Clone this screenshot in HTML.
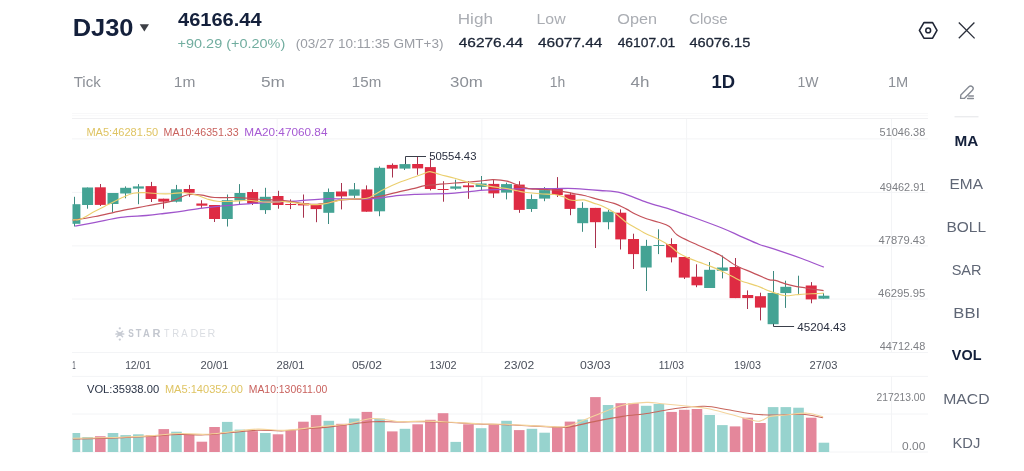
<!DOCTYPE html><html><head><meta charset="utf-8"><style>html,body{margin:0;padding:0;background:#fff;width:1024px;height:471px;overflow:hidden}svg{display:block;will-change:transform}text{font-family:"Liberation Sans",sans-serif}</style></head><body>
<svg width="1024" height="471" viewBox="0 0 1024 471">
<rect width="1024" height="471" fill="#fff"/>
<text x="72.65" y="36.30" font-size="23.50" fill="#14203B" font-weight="bold" textLength="60.79" lengthAdjust="spacingAndGlyphs">DJ30</text>
<polygon points="139.7,24.2 149,24.2 144.35,31.4" fill="#3c3f45"/>
<text x="178.00" y="26.00" font-size="17.70" fill="#14203B" font-weight="bold" textLength="83.52" lengthAdjust="spacingAndGlyphs">46166.44</text>
<text x="177.58" y="48.20" font-size="13.40" fill="#71ad9f" font-weight="normal" textLength="107.66" lengthAdjust="spacingAndGlyphs">+90.29 (+0.20%)</text>
<text x="295.79" y="48.20" font-size="13.40" fill="#9a9da4" font-weight="normal" textLength="147.79" lengthAdjust="spacingAndGlyphs">(03/27 10:11:35 GMT+3)</text>
<text x="457.73" y="23.80" font-size="14.00" fill="#aaadb3" font-weight="normal" textLength="35.21" lengthAdjust="spacingAndGlyphs">High</text>
<text x="536.53" y="23.80" font-size="14.00" fill="#aaadb3" font-weight="normal" textLength="29.06" lengthAdjust="spacingAndGlyphs">Low</text>
<text x="617.27" y="23.80" font-size="14.00" fill="#aaadb3" font-weight="normal" textLength="39.71" lengthAdjust="spacingAndGlyphs">Open</text>
<text x="689.04" y="23.80" font-size="14.00" fill="#aaadb3" font-weight="normal" textLength="38.66" lengthAdjust="spacingAndGlyphs">Close</text>
<text x="458.71" y="47.40" font-size="13.50" fill="#1c2536" font-weight="normal" textLength="64.47" lengthAdjust="spacingAndGlyphs" stroke="#1c2536" stroke-width="0.3">46276.44</text>
<text x="538.01" y="47.40" font-size="13.50" fill="#1c2536" font-weight="normal" textLength="64.47" lengthAdjust="spacingAndGlyphs" stroke="#1c2536" stroke-width="0.3">46077.44</text>
<text x="617.65" y="47.40" font-size="13.50" fill="#1c2536" font-weight="normal" textLength="57.65" lengthAdjust="spacingAndGlyphs" stroke="#1c2536" stroke-width="0.3">46107.01</text>
<text x="689.44" y="47.40" font-size="13.50" fill="#1c2536" font-weight="normal" textLength="60.86" lengthAdjust="spacingAndGlyphs" stroke="#1c2536" stroke-width="0.3">46076.15</text>
<polygon points="919.4,30.4 923.9,22.6 932.6,22.6 937.0,30.4 932.6,38.2 923.9,38.2" fill="none" stroke="#1f2535" stroke-width="1.6" stroke-linejoin="round"/>
<circle cx="928.2" cy="30.4" r="2.4" fill="none" stroke="#1f2535" stroke-width="1.5"/>
<path d="M958.8,22.5 L974.6,38.4 M974.4,22.5 L958.8,38.3" stroke="#2a2f3a" stroke-width="1.3" fill="none"/>
<text x="73.70" y="87.00" font-size="14.60" fill="#8c9097" font-weight="normal" textLength="27.12" lengthAdjust="spacingAndGlyphs">Tick</text>
<text x="173.84" y="87.00" font-size="14.60" fill="#8c9097" font-weight="normal" textLength="21.54" lengthAdjust="spacingAndGlyphs">1m</text>
<text x="260.91" y="87.00" font-size="14.60" fill="#8c9097" font-weight="normal" textLength="23.99" lengthAdjust="spacingAndGlyphs">5m</text>
<text x="351.87" y="87.00" font-size="14.60" fill="#8c9097" font-weight="normal" textLength="29.40" lengthAdjust="spacingAndGlyphs">15m</text>
<text x="450.13" y="87.00" font-size="14.60" fill="#8c9097" font-weight="normal" textLength="32.76" lengthAdjust="spacingAndGlyphs">30m</text>
<text x="549.76" y="87.00" font-size="14.60" fill="#8c9097" font-weight="normal" textLength="15.48" lengthAdjust="spacingAndGlyphs">1h</text>
<text x="630.58" y="87.00" font-size="14.60" fill="#8c9097" font-weight="normal" textLength="18.87" lengthAdjust="spacingAndGlyphs">4h</text>
<text x="711.60" y="87.90" font-size="17.70" fill="#14203B" font-weight="bold" textLength="23.60" lengthAdjust="spacingAndGlyphs">1D</text>
<text x="797.45" y="87.00" font-size="14.60" fill="#8c9097" font-weight="normal" textLength="21.02" lengthAdjust="spacingAndGlyphs">1W</text>
<text x="887.90" y="87.00" font-size="14.60" fill="#8c9097" font-weight="normal" textLength="20.33" lengthAdjust="spacingAndGlyphs">1M</text>
<g fill="none" stroke="#868b94" stroke-width="1.35" stroke-linejoin="round" stroke-linecap="round"><path d="M960.6,98.4 L960.8,94.9 L968.9,86.8 A2.45,2.45 0 0 1 972.4,90.3 L964.3,98.4 Z"/><path d="M968.6,96 L973.4,96 M967.6,98.5 L973.4,98.5"/></g>
<line x1="954.5" y1="116.8" x2="978.5" y2="116.8" stroke="#e3e4e7" stroke-width="1"/>
<text x="954.41" y="145.90" font-size="14.60" fill="#14203B" font-weight="bold" textLength="23.78" lengthAdjust="spacingAndGlyphs">MA</text>
<text x="949.57" y="189.20" font-size="14.60" fill="#5f6675" font-weight="normal" textLength="33.36" lengthAdjust="spacingAndGlyphs">EMA</text>
<text x="946.46" y="231.80" font-size="14.60" fill="#5f6675" font-weight="normal" textLength="39.53" lengthAdjust="spacingAndGlyphs">BOLL</text>
<text x="951.65" y="275.10" font-size="14.60" fill="#5f6675" font-weight="normal" textLength="29.93" lengthAdjust="spacingAndGlyphs">SAR</text>
<text x="953.37" y="318.10" font-size="14.60" fill="#5f6675" font-weight="normal" textLength="26.75" lengthAdjust="spacingAndGlyphs">BBI</text>
<text x="951.86" y="360.40" font-size="14.60" fill="#14203B" font-weight="bold" textLength="29.59" lengthAdjust="spacingAndGlyphs">VOL</text>
<text x="943.24" y="403.90" font-size="14.60" fill="#5f6675" font-weight="normal" textLength="46.34" lengthAdjust="spacingAndGlyphs">MACD</text>
<text x="952.52" y="447.50" font-size="14.60" fill="#5f6675" font-weight="normal" textLength="27.77" lengthAdjust="spacingAndGlyphs">KDJ</text>
<g stroke="#f3f4f6" stroke-width="1" fill="none">
<line x1="72" y1="138.90" x2="928" y2="138.90"/>
<line x1="72" y1="192.40" x2="928" y2="192.40"/>
<line x1="72" y1="245.90" x2="928" y2="245.90"/>
<line x1="72" y1="299.00" x2="928" y2="299.00"/>
<line x1="72" y1="352.50" x2="928" y2="352.50"/>
<line x1="72" y1="376.40" x2="928" y2="376.40"/>
<line x1="72" y1="414.00" x2="928" y2="414.00"/>
<line x1="72" y1="452.00" x2="928" y2="452.00"/>
<line x1="72" y1="113.5" x2="928" y2="113.5" stroke="#f8f8f9"/>
<line x1="72" y1="115.7" x2="928" y2="115.7" stroke="#f9f9fa"/>
<line x1="72" y1="118.5" x2="928" y2="118.5" stroke="#f0f0f2"/>
<line x1="277.2" y1="119" x2="277.2" y2="352.5"/>
<line x1="277.2" y1="376.4" x2="277.2" y2="452"/>
<line x1="481.9" y1="119" x2="481.9" y2="352.5"/>
<line x1="481.9" y1="376.4" x2="481.9" y2="452"/>
<line x1="686.6" y1="119" x2="686.6" y2="352.5"/>
<line x1="686.6" y1="376.4" x2="686.6" y2="452"/>
<line x1="891.5" y1="119" x2="891.5" y2="352.5"/>
<line x1="891.5" y1="376.4" x2="891.5" y2="452"/>
</g>
<text x="879.56" y="135.70" font-size="10.90" fill="#7d7f84" font-weight="normal" textLength="45.69" lengthAdjust="spacingAndGlyphs">51046.38</text>
<text x="879.73" y="190.60" font-size="10.90" fill="#7d7f84" font-weight="normal" textLength="45.63" lengthAdjust="spacingAndGlyphs">49462.91</text>
<text x="878.62" y="243.80" font-size="10.90" fill="#7d7f84" font-weight="normal" textLength="46.70" lengthAdjust="spacingAndGlyphs">47879.43</text>
<text x="878.12" y="296.90" font-size="10.90" fill="#7d7f84" font-weight="normal" textLength="47.15" lengthAdjust="spacingAndGlyphs">46295.95</text>
<text x="879.73" y="350.10" font-size="10.90" fill="#7d7f84" font-weight="normal" textLength="45.52" lengthAdjust="spacingAndGlyphs">44712.48</text>
<text x="876.58" y="400.90" font-size="10.90" fill="#7d7f84" font-weight="normal" textLength="48.75" lengthAdjust="spacingAndGlyphs">217213.00</text>
<text x="902.12" y="450.00" font-size="10.90" fill="#7d7f84" font-weight="normal" textLength="23.27" lengthAdjust="spacingAndGlyphs">0.00</text>
<text x="86.42" y="135.70" font-size="11.20" fill="#dfc463" font-weight="normal" textLength="71.83" lengthAdjust="spacingAndGlyphs">MA5:46281.50</text>
<text x="163.55" y="135.70" font-size="11.20" fill="#c9625e" font-weight="normal" textLength="75.14" lengthAdjust="spacingAndGlyphs">MA10:46351.33</text>
<text x="244.36" y="135.70" font-size="11.20" fill="#a65ad3" font-weight="normal" textLength="83.11" lengthAdjust="spacingAndGlyphs">MA20:47060.84</text>
<g fill="#c8ccd4" stroke="none"><circle cx="119.8" cy="334" r="2.1"/><rect x="115.2" y="333.15" width="9.3" height="1.7" rx="0.85"/><circle cx="119.8" cy="328.3" r="1.15"/><circle cx="119.8" cy="339.6" r="1.15"/></g>
<g stroke="#c8ccd4" stroke-width="1.5" stroke-linecap="round"><line x1="117" y1="331.2" x2="122.6" y2="336.8"/><line x1="122.6" y1="331.2" x2="117" y2="336.8"/></g>
<text x="128.35" y="337.10" font-size="10.00" fill="#c3c7cf" font-weight="bold" textLength="5.56" lengthAdjust="spacingAndGlyphs">S</text>
<text x="135.81" y="337.10" font-size="10.00" fill="#c3c7cf" font-weight="bold" textLength="5.59" lengthAdjust="spacingAndGlyphs">T</text>
<text x="142.96" y="337.10" font-size="10.00" fill="#c3c7cf" font-weight="bold" textLength="6.79" lengthAdjust="spacingAndGlyphs">A</text>
<text x="152.58" y="337.10" font-size="10.00" fill="#c3c7cf" font-weight="bold" textLength="7.96" lengthAdjust="spacingAndGlyphs">R</text>
<text x="163.92" y="337.10" font-size="10.00" fill="#dadde2" font-weight="normal" textLength="5.47" lengthAdjust="spacingAndGlyphs">T</text>
<text x="172.23" y="337.10" font-size="10.00" fill="#dadde2" font-weight="normal" textLength="6.92" lengthAdjust="spacingAndGlyphs">R</text>
<text x="181.25" y="337.10" font-size="10.00" fill="#dadde2" font-weight="normal" textLength="6.37" lengthAdjust="spacingAndGlyphs">A</text>
<text x="190.54" y="337.10" font-size="10.00" fill="#dadde2" font-weight="normal" textLength="7.77" lengthAdjust="spacingAndGlyphs">D</text>
<text x="199.55" y="337.10" font-size="10.00" fill="#dadde2" font-weight="normal" textLength="6.24" lengthAdjust="spacingAndGlyphs">E</text>
<text x="207.64" y="337.10" font-size="10.00" fill="#dadde2" font-weight="normal" textLength="7.77" lengthAdjust="spacingAndGlyphs">R</text>
<defs><clipPath id="cl"><rect x="72.5" y="110" width="830" height="350"/></clipPath></defs>
<text x="72.23" y="369.10" font-size="11.00" fill="#4a4f5b" font-weight="normal" textLength="3.49" lengthAdjust="spacingAndGlyphs">1</text>
<text x="125.13" y="369.10" font-size="11.00" fill="#4a4f5b" font-weight="normal" textLength="25.82" lengthAdjust="spacingAndGlyphs">12/01</text>
<text x="200.54" y="369.10" font-size="11.00" fill="#4a4f5b" font-weight="normal" textLength="28.05" lengthAdjust="spacingAndGlyphs">20/01</text>
<text x="276.44" y="369.10" font-size="11.00" fill="#4a4f5b" font-weight="normal" textLength="28.05" lengthAdjust="spacingAndGlyphs">28/01</text>
<text x="351.92" y="369.10" font-size="11.00" fill="#4a4f5b" font-weight="normal" textLength="30.11" lengthAdjust="spacingAndGlyphs">05/02</text>
<text x="429.38" y="369.10" font-size="11.00" fill="#4a4f5b" font-weight="normal" textLength="27.29" lengthAdjust="spacingAndGlyphs">13/02</text>
<text x="504.00" y="369.10" font-size="11.00" fill="#4a4f5b" font-weight="normal" textLength="30.24" lengthAdjust="spacingAndGlyphs">23/02</text>
<text x="580.01" y="369.10" font-size="11.00" fill="#4a4f5b" font-weight="normal" textLength="30.67" lengthAdjust="spacingAndGlyphs">03/03</text>
<text x="658.83" y="369.10" font-size="11.00" fill="#4a4f5b" font-weight="normal" textLength="25.07" lengthAdjust="spacingAndGlyphs">11/03</text>
<text x="733.99" y="369.10" font-size="11.00" fill="#4a4f5b" font-weight="normal" textLength="26.92" lengthAdjust="spacingAndGlyphs">19/03</text>
<text x="809.44" y="369.10" font-size="11.00" fill="#4a4f5b" font-weight="normal" textLength="27.89" lengthAdjust="spacingAndGlyphs">27/03</text>
<g clip-path="url(#cl)">
<rect x="74.00" y="196.80" width="1" height="29.70" fill="#3d8a80"/>
<rect x="69.40" y="204.20" width="11.00" height="19.60" fill="#44A394"/>
<rect x="87.00" y="187.50" width="1" height="21.20" fill="#3d8a80"/>
<rect x="82.09" y="187.50" width="11.00" height="17.50" fill="#44A394"/>
<rect x="100.00" y="184.00" width="1" height="22.00" fill="#a8324e"/>
<rect x="94.79" y="187.30" width="11.00" height="17.60" fill="#DE2B43"/>
<rect x="112.00" y="193.00" width="1" height="19.40" fill="#3d8a80"/>
<rect x="107.49" y="193.00" width="11.00" height="11.00" fill="#44A394"/>
<rect x="125.00" y="186.40" width="1" height="11.90" fill="#3d8a80"/>
<rect x="120.18" y="187.80" width="11.00" height="5.70" fill="#44A394"/>
<rect x="138.00" y="184.10" width="1" height="20.10" fill="#3d8a80"/>
<rect x="132.88" y="186.40" width="11.00" height="2.20" fill="#44A394"/>
<rect x="151.00" y="181.90" width="1" height="20.10" fill="#a8324e"/>
<rect x="145.57" y="186.10" width="11.00" height="12.90" fill="#DE2B43"/>
<rect x="163.00" y="198.70" width="1" height="10.00" fill="#a8324e"/>
<rect x="158.27" y="198.70" width="11.00" height="3.00" fill="#DE2B43"/>
<rect x="176.00" y="184.90" width="1" height="17.50" fill="#3d8a80"/>
<rect x="170.96" y="189.30" width="11.00" height="12.40" fill="#44A394"/>
<rect x="189.00" y="184.90" width="1" height="11.90" fill="#a8324e"/>
<rect x="183.66" y="189.00" width="11.00" height="3.80" fill="#DE2B43"/>
<rect x="201.00" y="200.20" width="1" height="7.70" fill="#a8324e"/>
<rect x="196.35" y="203.50" width="11.00" height="2.20" fill="#DE2B43"/>
<rect x="214.00" y="205.00" width="1" height="17.00" fill="#a8324e"/>
<rect x="209.05" y="205.00" width="11.00" height="14.00" fill="#DE2B43"/>
<rect x="227.00" y="194.50" width="1" height="32.00" fill="#3d8a80"/>
<rect x="221.74" y="200.20" width="11.00" height="18.80" fill="#44A394"/>
<rect x="239.00" y="184.10" width="1" height="20.90" fill="#3d8a80"/>
<rect x="234.44" y="193.00" width="11.00" height="7.50" fill="#44A394"/>
<rect x="252.00" y="189.30" width="1" height="15.70" fill="#a8324e"/>
<rect x="247.13" y="192.00" width="11.00" height="11.50" fill="#DE2B43"/>
<rect x="265.00" y="187.80" width="1" height="26.10" fill="#3d8a80"/>
<rect x="259.83" y="196.80" width="11.00" height="13.30" fill="#44A394"/>
<rect x="278.00" y="190.80" width="1" height="17.90" fill="#a8324e"/>
<rect x="272.52" y="196.00" width="11.00" height="9.00" fill="#DE2B43"/>
<rect x="290.00" y="199.40" width="1" height="9.70" fill="#a8324e"/>
<rect x="285.22" y="204.00" width="11.00" height="1.00" fill="#DE2B43"/>
<rect x="303.00" y="194.50" width="1" height="23.20" fill="#a8324e"/>
<rect x="297.91" y="203.40" width="11.00" height="2.00" fill="#DE2B43"/>
<rect x="316.00" y="204.30" width="1" height="17.90" fill="#a8324e"/>
<rect x="310.61" y="204.30" width="11.00" height="4.80" fill="#DE2B43"/>
<rect x="328.00" y="188.50" width="1" height="35.50" fill="#3d8a80"/>
<rect x="323.30" y="192.00" width="11.00" height="20.80" fill="#44A394"/>
<rect x="341.00" y="183.00" width="1" height="26.40" fill="#a8324e"/>
<rect x="336.00" y="191.50" width="11.00" height="4.90" fill="#DE2B43"/>
<rect x="354.00" y="183.00" width="1" height="15.00" fill="#3d8a80"/>
<rect x="348.69" y="189.40" width="11.00" height="6.30" fill="#44A394"/>
<rect x="366.00" y="185.40" width="1" height="26.30" fill="#a8324e"/>
<rect x="361.38" y="189.40" width="11.00" height="22.30" fill="#DE2B43"/>
<rect x="379.00" y="166.40" width="1" height="49.80" fill="#3d8a80"/>
<rect x="374.08" y="167.80" width="11.00" height="43.50" fill="#44A394"/>
<rect x="392.00" y="163.40" width="1" height="14.10" fill="#a8324e"/>
<rect x="386.77" y="164.90" width="11.00" height="3.70" fill="#DE2B43"/>
<rect x="404.00" y="164.10" width="1" height="5.90" fill="#3d8a80"/>
<rect x="399.47" y="164.10" width="11.00" height="4.50" fill="#44A394"/>
<rect x="417.00" y="156.50" width="1" height="18.30" fill="#a8324e"/>
<rect x="412.16" y="164.00" width="11.00" height="4.40" fill="#DE2B43"/>
<rect x="430.00" y="158.90" width="1" height="31.50" fill="#a8324e"/>
<rect x="424.86" y="167.10" width="11.00" height="21.90" fill="#DE2B43"/>
<rect x="443.00" y="181.20" width="1" height="20.50" fill="#a8324e"/>
<rect x="437.56" y="189.00" width="11.00" height="1.00" fill="#DE2B43"/>
<rect x="455.00" y="179.70" width="1" height="10.20" fill="#3d8a80"/>
<rect x="450.25" y="186.40" width="11.00" height="2.30" fill="#44A394"/>
<rect x="468.00" y="181.20" width="1" height="17.60" fill="#a8324e"/>
<rect x="462.95" y="185.40" width="11.00" height="1.80" fill="#DE2B43"/>
<rect x="481.00" y="176.00" width="1" height="14.10" fill="#3d8a80"/>
<rect x="475.64" y="183.50" width="11.00" height="3.40" fill="#44A394"/>
<rect x="493.00" y="179.00" width="1" height="18.90" fill="#a8324e"/>
<rect x="488.34" y="183.90" width="11.00" height="9.50" fill="#DE2B43"/>
<rect x="506.00" y="182.60" width="1" height="16.80" fill="#3d8a80"/>
<rect x="501.03" y="184.10" width="11.00" height="8.50" fill="#44A394"/>
<rect x="519.00" y="181.20" width="1" height="31.60" fill="#a8324e"/>
<rect x="513.73" y="184.60" width="11.00" height="25.30" fill="#DE2B43"/>
<rect x="531.00" y="194.50" width="1" height="17.40" fill="#3d8a80"/>
<rect x="526.42" y="199.00" width="11.00" height="10.00" fill="#44A394"/>
<rect x="544.00" y="187.10" width="1" height="14.10" fill="#3d8a80"/>
<rect x="539.12" y="190.10" width="11.00" height="8.50" fill="#44A394"/>
<rect x="557.00" y="177.10" width="1" height="19.90" fill="#a8324e"/>
<rect x="551.81" y="188.10" width="11.00" height="6.90" fill="#DE2B43"/>
<rect x="570.00" y="192.60" width="1" height="22.60" fill="#a8324e"/>
<rect x="564.50" y="194.50" width="11.00" height="14.40" fill="#DE2B43"/>
<rect x="582.00" y="202.20" width="1" height="29.60" fill="#3d8a80"/>
<rect x="577.20" y="207.90" width="11.00" height="15.30" fill="#44A394"/>
<rect x="595.00" y="207.90" width="1" height="40.10" fill="#a8324e"/>
<rect x="589.89" y="207.90" width="11.00" height="14.30" fill="#DE2B43"/>
<rect x="608.00" y="209.80" width="1" height="19.50" fill="#3d8a80"/>
<rect x="602.59" y="211.70" width="11.00" height="10.50" fill="#44A394"/>
<rect x="620.00" y="209.40" width="1" height="40.10" fill="#a8324e"/>
<rect x="615.28" y="212.70" width="11.00" height="26.70" fill="#DE2B43"/>
<rect x="633.00" y="233.70" width="1" height="35.30" fill="#a8324e"/>
<rect x="627.98" y="239.00" width="11.00" height="15.10" fill="#DE2B43"/>
<rect x="646.00" y="239.80" width="1" height="51.20" fill="#3d8a80"/>
<rect x="640.67" y="245.90" width="11.00" height="21.60" fill="#44A394"/>
<rect x="658.00" y="229.30" width="1" height="24.80" fill="#3d8a80"/>
<rect x="653.37" y="245.00" width="11.00" height="1.00" fill="#44A394"/>
<rect x="671.00" y="238.30" width="1" height="24.10" fill="#a8324e"/>
<rect x="666.06" y="244.00" width="11.00" height="13.40" fill="#DE2B43"/>
<rect x="684.00" y="257.00" width="1" height="22.00" fill="#a8324e"/>
<rect x="678.76" y="257.00" width="11.00" height="20.60" fill="#DE2B43"/>
<rect x="696.00" y="264.30" width="1" height="22.90" fill="#a8324e"/>
<rect x="691.46" y="276.70" width="11.00" height="8.60" fill="#DE2B43"/>
<rect x="709.00" y="262.00" width="1" height="26.00" fill="#3d8a80"/>
<rect x="704.15" y="269.80" width="11.00" height="18.20" fill="#44A394"/>
<rect x="722.00" y="255.50" width="1" height="22.90" fill="#3d8a80"/>
<rect x="716.85" y="267.50" width="11.00" height="3.30" fill="#44A394"/>
<rect x="735.00" y="258.00" width="1" height="40.10" fill="#a8324e"/>
<rect x="729.54" y="267.00" width="11.00" height="31.10" fill="#DE2B43"/>
<rect x="747.00" y="290.40" width="1" height="18.60" fill="#a8324e"/>
<rect x="742.24" y="295.00" width="11.00" height="3.10" fill="#DE2B43"/>
<rect x="760.00" y="292.70" width="1" height="27.70" fill="#a8324e"/>
<rect x="754.93" y="296.20" width="11.00" height="11.40" fill="#DE2B43"/>
<rect x="773.00" y="271.00" width="1" height="55.00" fill="#3d8a80"/>
<rect x="767.62" y="293.00" width="11.00" height="31.20" fill="#44A394"/>
<rect x="785.00" y="280.70" width="1" height="27.20" fill="#3d8a80"/>
<rect x="780.32" y="286.80" width="11.00" height="6.30" fill="#44A394"/>
<rect x="798.00" y="275.70" width="1" height="18.20" fill="#3d8a80"/>
<rect x="811.00" y="282.10" width="1" height="21.20" fill="#a8324e"/>
<rect x="805.71" y="285.50" width="11.00" height="13.90" fill="#DE2B43"/>
<rect x="823.00" y="293.10" width="1" height="5.60" fill="#3d8a80"/>
<rect x="818.40" y="295.70" width="11.00" height="3.00" fill="#44A394"/>
<rect x="69.60" y="433.00" width="10.60" height="19.00" fill="#97D3CE"/>
<rect x="82.30" y="437.00" width="10.60" height="15.00" fill="#97D3CE"/>
<rect x="94.99" y="436.20" width="10.60" height="15.80" fill="#E4879B"/>
<rect x="107.69" y="433.00" width="10.60" height="19.00" fill="#97D3CE"/>
<rect x="120.38" y="435.10" width="10.60" height="16.90" fill="#97D3CE"/>
<rect x="133.07" y="434.30" width="10.60" height="17.70" fill="#97D3CE"/>
<rect x="145.77" y="435.10" width="10.60" height="16.90" fill="#E4879B"/>
<rect x="158.47" y="429.10" width="10.60" height="22.90" fill="#E4879B"/>
<rect x="171.16" y="431.70" width="10.60" height="20.30" fill="#97D3CE"/>
<rect x="183.85" y="434.30" width="10.60" height="17.70" fill="#E4879B"/>
<rect x="196.55" y="441.70" width="10.60" height="10.30" fill="#E4879B"/>
<rect x="209.25" y="427.00" width="10.60" height="25.00" fill="#E4879B"/>
<rect x="221.94" y="421.90" width="10.60" height="30.10" fill="#97D3CE"/>
<rect x="234.63" y="429.60" width="10.60" height="22.40" fill="#97D3CE"/>
<rect x="247.33" y="431.20" width="10.60" height="20.80" fill="#E4879B"/>
<rect x="260.03" y="433.00" width="10.60" height="19.00" fill="#97D3CE"/>
<rect x="272.72" y="434.30" width="10.60" height="17.70" fill="#E4879B"/>
<rect x="285.42" y="430.40" width="10.60" height="21.60" fill="#E4879B"/>
<rect x="298.11" y="421.70" width="10.60" height="30.30" fill="#E4879B"/>
<rect x="310.81" y="415.10" width="10.60" height="36.90" fill="#E4879B"/>
<rect x="323.50" y="420.80" width="10.60" height="31.20" fill="#97D3CE"/>
<rect x="336.19" y="423.80" width="10.60" height="28.20" fill="#E4879B"/>
<rect x="348.89" y="418.50" width="10.60" height="33.50" fill="#97D3CE"/>
<rect x="361.58" y="411.90" width="10.60" height="40.10" fill="#E4879B"/>
<rect x="374.28" y="418.50" width="10.60" height="33.50" fill="#97D3CE"/>
<rect x="386.97" y="431.40" width="10.60" height="20.60" fill="#E4879B"/>
<rect x="399.67" y="428.80" width="10.60" height="23.20" fill="#97D3CE"/>
<rect x="412.36" y="424.30" width="10.60" height="27.70" fill="#E4879B"/>
<rect x="425.06" y="419.80" width="10.60" height="32.20" fill="#E4879B"/>
<rect x="437.76" y="413.20" width="10.60" height="38.80" fill="#E4879B"/>
<rect x="450.45" y="441.90" width="10.60" height="10.10" fill="#97D3CE"/>
<rect x="463.15" y="424.30" width="10.60" height="27.70" fill="#E4879B"/>
<rect x="475.84" y="428.20" width="10.60" height="23.80" fill="#97D3CE"/>
<rect x="488.54" y="424.30" width="10.60" height="27.70" fill="#E4879B"/>
<rect x="501.23" y="420.80" width="10.60" height="31.20" fill="#97D3CE"/>
<rect x="513.93" y="430.10" width="10.60" height="21.90" fill="#E4879B"/>
<rect x="526.62" y="428.80" width="10.60" height="23.20" fill="#97D3CE"/>
<rect x="539.32" y="432.70" width="10.60" height="19.30" fill="#97D3CE"/>
<rect x="552.01" y="426.90" width="10.60" height="25.10" fill="#E4879B"/>
<rect x="564.71" y="421.60" width="10.60" height="30.40" fill="#E4879B"/>
<rect x="577.40" y="419.50" width="10.60" height="32.50" fill="#97D3CE"/>
<rect x="590.10" y="397.10" width="10.60" height="54.90" fill="#E4879B"/>
<rect x="602.79" y="405.00" width="10.60" height="47.00" fill="#97D3CE"/>
<rect x="615.49" y="403.20" width="10.60" height="48.80" fill="#E4879B"/>
<rect x="628.18" y="403.20" width="10.60" height="48.80" fill="#E4879B"/>
<rect x="640.88" y="405.80" width="10.60" height="46.20" fill="#97D3CE"/>
<rect x="653.57" y="404.00" width="10.60" height="48.00" fill="#97D3CE"/>
<rect x="666.26" y="411.90" width="10.60" height="40.10" fill="#E4879B"/>
<rect x="678.96" y="409.80" width="10.60" height="42.20" fill="#E4879B"/>
<rect x="691.66" y="409.00" width="10.60" height="43.00" fill="#E4879B"/>
<rect x="704.35" y="415.00" width="10.60" height="37.00" fill="#97D3CE"/>
<rect x="717.05" y="425.10" width="10.60" height="26.90" fill="#97D3CE"/>
<rect x="729.74" y="426.40" width="10.60" height="25.60" fill="#E4879B"/>
<rect x="742.44" y="417.70" width="10.60" height="34.30" fill="#E4879B"/>
<rect x="755.13" y="423.00" width="10.60" height="29.00" fill="#E4879B"/>
<rect x="767.83" y="407.10" width="10.60" height="44.90" fill="#97D3CE"/>
<rect x="780.52" y="407.10" width="10.60" height="44.90" fill="#97D3CE"/>
<rect x="793.22" y="407.70" width="10.60" height="44.30" fill="#97D3CE"/>
<rect x="805.91" y="417.70" width="10.60" height="34.30" fill="#E4879B"/>
<rect x="818.61" y="442.70" width="10.60" height="9.30" fill="#97D3CE"/>
</g>
<g fill="none" stroke-width="1.2" stroke-linejoin="round" clip-path="url(#cl)">
<path d="M75.10,226.20 C78.48,225.57 87.78,223.88 95.40,222.40 C103.02,220.92 112.33,218.45 120.80,217.30 C129.27,216.15 139.00,216.13 146.20,215.50 C153.40,214.87 157.65,214.27 164.00,213.50 C170.35,212.73 177.53,211.83 184.30,210.90 C191.07,209.97 198.25,208.73 204.60,207.90 C210.95,207.07 215.20,206.58 222.40,205.90 C229.60,205.22 239.35,204.45 247.80,203.80 C256.25,203.15 264.65,202.50 273.10,202.00 C281.55,201.50 290.02,201.33 298.50,200.80 C306.98,200.27 316.33,199.10 324.00,198.80 C331.67,198.50 337.35,198.97 344.50,199.00 C351.65,199.03 360.20,199.28 366.90,199.00 C373.60,198.72 379.25,197.90 384.70,197.30 C390.15,196.70 394.63,195.90 399.60,195.40 C404.57,194.90 408.60,194.55 414.50,194.30 C420.40,194.05 428.30,194.10 435.00,193.90 C441.70,193.70 448.93,193.48 454.70,193.10 C460.47,192.72 464.63,192.10 469.60,191.60 C474.57,191.10 478.60,190.47 484.50,190.10 C490.40,189.73 498.30,189.65 505.00,189.40 C511.70,189.15 516.45,188.73 524.70,188.60 C532.95,188.47 546.12,188.60 554.50,188.60 C562.88,188.60 567.42,188.28 575.00,188.60 C582.58,188.92 592.32,189.78 600.00,190.50 C607.68,191.22 613.28,190.93 621.10,192.90 C628.92,194.87 638.70,199.57 646.90,202.30 C655.10,205.03 662.48,206.77 670.30,209.30 C678.12,211.83 685.20,214.38 693.80,217.50 C702.40,220.62 714.10,224.87 721.90,228.00 C729.70,231.13 734.35,233.55 740.60,236.30 C746.85,239.05 753.15,242.17 759.40,244.50 C765.65,246.83 771.07,247.97 778.10,250.30 C785.13,252.63 793.98,255.68 801.60,258.50 C809.22,261.32 820.10,265.75 823.80,267.20" stroke="#a055cc" stroke-width="1.3"/>
<path d="M72.50,220.20 C72.93,220.13 71.28,220.42 75.10,219.80 C78.92,219.18 87.78,218.00 95.40,216.50 C103.02,215.00 112.33,212.55 120.80,210.80 C129.27,209.05 137.73,207.60 146.20,206.00 C154.67,204.40 165.25,202.92 171.60,201.20 C177.95,199.48 180.92,196.83 184.30,195.70 C187.68,194.57 188.95,194.48 191.90,194.40 C194.85,194.32 198.20,194.68 202.00,195.20 C205.80,195.72 209.20,197.12 214.70,197.50 C220.20,197.88 229.48,197.38 235.00,197.50 C240.52,197.62 243.13,197.87 247.80,198.20 C252.47,198.53 256.67,199.07 263.00,199.50 C269.33,199.93 279.65,200.20 285.80,200.80 C291.95,201.40 295.08,202.52 299.90,203.10 C304.72,203.68 309.75,204.42 314.70,204.30 C319.65,204.18 325.13,203.13 329.60,202.40 C334.07,201.67 335.28,200.58 341.50,199.90 C347.72,199.22 359.70,199.05 366.90,198.30 C374.10,197.55 379.25,196.52 384.70,195.40 C390.15,194.28 394.63,192.77 399.60,191.60 C404.57,190.43 410.28,189.38 414.50,188.40 C418.72,187.42 420.67,186.40 424.90,185.70 C429.13,185.00 434.93,184.65 439.90,184.20 C444.87,183.75 449.75,183.37 454.70,183.00 C459.65,182.63 464.63,182.42 469.60,182.00 C474.57,181.58 480.53,180.88 484.50,180.50 C488.47,180.12 489.67,179.58 493.40,179.70 C497.13,179.82 502.92,180.33 506.90,181.20 C510.88,182.07 514.33,183.85 517.30,184.90 C520.27,185.95 522.47,186.82 524.70,187.50 C526.93,188.18 528.22,188.70 530.70,189.00 C533.18,189.30 535.63,189.13 539.60,189.30 C543.57,189.47 550.53,189.62 554.50,190.00 C558.47,190.38 559.98,190.97 563.40,191.60 C566.82,192.23 571.55,193.15 575.00,193.80 C578.45,194.45 579.93,194.48 584.10,195.50 C588.27,196.52 595.00,198.58 600.00,199.90 C605.00,201.22 609.75,201.90 614.10,203.40 C618.45,204.90 622.58,207.13 626.10,208.90 C629.62,210.67 631.80,212.35 635.20,214.00 C638.60,215.65 642.60,217.43 646.50,218.80 C650.40,220.17 654.78,220.92 658.60,222.20 C662.42,223.48 666.28,224.35 669.40,226.50 C672.52,228.65 673.23,232.30 677.30,235.10 C681.37,237.90 687.93,240.57 693.80,243.30 C699.67,246.03 707.82,249.35 712.50,251.50 C717.18,253.65 718.00,253.87 721.90,256.20 C725.80,258.53 730.83,262.77 735.90,265.50 C740.97,268.23 746.82,270.25 752.30,272.60 C757.78,274.95 764.98,278.30 768.80,279.60 C772.62,280.90 772.43,279.70 775.20,280.40 C777.97,281.10 782.00,282.82 785.40,283.80 C788.80,284.78 792.20,285.60 795.60,286.30 C799.00,287.00 802.40,287.43 805.80,288.00 C809.20,288.57 813.03,289.27 816.00,289.70 C818.97,290.13 822.33,290.45 823.60,290.60" stroke="#c4525a" stroke-width="1.2"/>
<path d="M72.50,219.80 C72.93,219.80 73.70,219.93 75.10,219.80 C76.50,219.67 77.52,220.47 80.90,219.00 C84.28,217.53 90.87,213.40 95.40,211.00 C99.93,208.60 103.87,206.73 108.10,204.60 C112.33,202.47 116.57,200.10 120.80,198.20 C125.03,196.30 129.27,194.12 133.50,193.20 C137.73,192.28 141.97,192.62 146.20,192.70 C150.43,192.78 154.67,193.53 158.90,193.70 C163.13,193.87 167.37,193.87 171.60,193.70 C175.83,193.53 180.07,192.43 184.30,192.70 C188.53,192.97 193.20,194.25 197.00,195.30 C200.80,196.35 203.72,198.00 207.10,199.00 C210.48,200.00 213.07,200.92 217.30,201.30 C221.53,201.68 227.42,201.47 232.50,201.30 C237.58,201.13 242.72,200.18 247.80,200.30 C252.88,200.42 257.93,201.72 263.00,202.00 C268.07,202.28 274.53,202.07 278.20,202.00 C281.87,201.93 279.65,201.17 285.00,201.60 C290.35,202.03 303.85,204.22 310.30,204.60 C316.75,204.98 319.75,204.40 323.70,203.90 C327.65,203.40 330.53,202.35 334.00,201.60 C337.47,200.85 339.02,199.95 344.50,199.40 C349.98,198.85 361.93,199.10 366.90,198.30 C371.87,197.50 371.33,196.15 374.30,194.60 C377.27,193.05 380.48,191.05 384.70,189.00 C388.92,186.95 394.63,184.30 399.60,182.30 C404.57,180.30 410.28,178.50 414.50,177.00 C418.72,175.50 422.32,174.20 424.90,173.30 C427.48,172.40 427.50,171.40 430.00,171.60 C432.50,171.80 435.78,173.38 439.90,174.50 C444.02,175.62 449.75,176.93 454.70,178.30 C459.65,179.67 464.63,181.52 469.60,182.70 C474.57,183.88 480.53,184.70 484.50,185.40 C488.47,186.10 489.67,186.37 493.40,186.90 C497.13,187.43 502.92,187.95 506.90,188.60 C510.88,189.25 514.33,190.18 517.30,190.80 C520.27,191.42 520.98,191.80 524.70,192.30 C528.42,192.80 534.63,193.43 539.60,193.80 C544.57,194.17 550.53,194.00 554.50,194.50 C558.47,195.00 560.93,195.93 563.40,196.80 C565.87,197.67 567.37,199.08 569.30,199.70 C571.23,200.32 572.53,200.47 575.00,200.50 C577.47,200.53 581.00,199.47 584.10,199.90 C587.20,200.33 590.42,202.02 593.60,203.10 C596.78,204.18 599.70,204.80 603.20,206.40 C606.70,208.00 610.78,210.07 614.60,212.70 C618.42,215.33 622.27,219.50 626.10,222.20 C629.93,224.90 634.20,226.92 637.60,228.90 C641.00,230.88 643.12,232.43 646.50,234.10 C649.88,235.77 654.08,237.00 657.90,238.90 C661.72,240.80 665.90,243.12 669.40,245.50 C672.90,247.88 675.40,250.97 678.90,253.20 C682.40,255.43 686.90,257.37 690.40,258.90 C693.90,260.43 696.40,261.12 699.90,262.40 C703.40,263.68 707.57,265.05 711.40,266.60 C715.23,268.15 719.07,269.88 722.90,271.70 C726.73,273.52 731.22,275.90 734.40,277.50 C737.58,279.10 738.18,279.88 742.00,281.30 C745.82,282.72 752.85,284.42 757.30,286.00 C761.75,287.58 765.72,289.62 768.70,290.80 C771.68,291.98 772.42,292.28 775.20,293.10 C777.98,293.92 782.00,295.42 785.40,295.70 C788.80,295.98 792.20,295.08 795.60,294.80 C799.00,294.52 802.40,294.20 805.80,294.00 C809.20,293.80 813.03,293.75 816.00,293.60 C818.97,293.45 822.33,293.18 823.60,293.10" stroke="#ebcf6e" stroke-width="1.15"/>
<path d="M72.70,439.00 C77.18,438.92 90.73,438.75 99.60,438.50 C108.47,438.25 117.12,437.87 125.90,437.50 C134.68,437.13 143.50,436.80 152.30,436.30 C161.10,435.80 169.92,434.75 178.70,434.50 C187.48,434.25 196.22,435.13 205.00,434.80 C213.78,434.47 222.60,433.25 231.40,432.50 C240.20,431.75 249.02,430.58 257.80,430.30 C266.58,430.02 275.32,431.10 284.10,430.80 C292.88,430.50 302.85,429.15 310.50,428.50 C318.15,427.85 324.02,427.52 330.00,426.90 C335.98,426.28 339.28,425.65 346.40,424.80 C353.52,423.95 363.92,422.27 372.70,421.80 C381.48,421.33 390.30,422.03 399.10,422.00 C407.90,421.97 416.72,421.52 425.50,421.60 C434.28,421.68 443.02,422.10 451.80,422.50 C460.58,422.90 469.40,423.65 478.20,424.00 C487.00,424.35 495.82,424.28 504.60,424.60 C513.38,424.92 522.12,425.47 530.90,425.90 C539.68,426.33 550.78,427.03 557.30,427.20 C563.82,427.37 563.48,427.92 570.00,426.90 C576.52,425.88 587.62,422.85 596.40,421.10 C605.18,419.35 613.92,417.72 622.70,416.40 C631.48,415.08 640.30,414.52 649.10,413.20 C657.90,411.88 666.27,409.65 675.50,408.50 C684.73,407.35 695.72,406.08 704.50,406.30 C713.28,406.52 719.85,408.47 728.20,409.80 C736.55,411.13 745.80,413.43 754.60,414.30 C763.40,415.17 773.10,415.00 781.00,415.00 C788.90,415.00 794.98,413.85 802.00,414.30 C809.02,414.75 819.58,417.13 823.10,417.70" stroke="#c8665c" stroke-width="1.1"/>
<path d="M72.70,438.30 C77.18,438.22 90.73,438.02 99.60,437.80 C108.47,437.58 117.12,437.37 125.90,437.00 C134.68,436.63 143.50,436.18 152.30,435.60 C161.10,435.02 169.92,433.72 178.70,433.50 C187.48,433.28 196.22,434.60 205.00,434.30 C213.78,434.00 222.60,432.57 231.40,431.70 C240.20,430.83 249.02,429.32 257.80,429.10 C266.58,428.88 275.32,430.63 284.10,430.40 C292.88,430.17 302.85,428.50 310.50,427.70 C318.15,426.90 324.02,426.17 330.00,425.60 C335.98,425.03 339.28,425.48 346.40,424.30 C353.52,423.12 363.92,418.95 372.70,418.50 C381.48,418.05 390.30,421.17 399.10,421.60 C407.90,422.03 416.72,421.00 425.50,421.10 C434.28,421.20 443.02,421.75 451.80,422.20 C460.58,422.65 469.40,423.45 478.20,423.80 C487.00,424.15 495.82,424.00 504.60,424.30 C513.38,424.60 522.12,425.17 530.90,425.60 C539.68,426.03 550.78,426.90 557.30,426.90 C563.82,426.90 563.48,427.58 570.00,425.60 C576.52,423.62 587.62,418.38 596.40,415.00 C605.18,411.62 614.35,407.40 622.70,405.30 C631.05,403.20 639.90,402.67 646.50,402.40 C653.10,402.13 655.27,403.05 662.30,403.70 C669.33,404.35 681.23,405.50 688.70,406.30 C696.17,407.10 700.52,407.27 707.10,408.50 C713.68,409.73 721.17,411.87 728.20,413.70 C735.23,415.53 744.03,418.27 749.30,419.50 C754.57,420.73 756.28,421.62 759.80,421.10 C763.32,420.58 766.00,417.42 770.40,416.40 C774.80,415.38 780.05,415.53 786.20,415.00 C792.35,414.47 801.15,412.88 807.30,413.20 C813.45,413.52 820.47,416.28 823.10,416.90" stroke="#f4d49c" stroke-width="1.1"/>
</g>
<path d="M405.5,164.1 L405.5,156.5 L426,156.5" stroke="#3a3f4a" stroke-width="1" fill="none"/>
<text x="429.25" y="160.20" font-size="10.60" fill="#2a3040" font-weight="normal" textLength="47.17" lengthAdjust="spacingAndGlyphs">50554.43</text>
<path d="M773.5,323.8 L773.5,326.5 L794.1,326.5" stroke="#3a3f4a" stroke-width="1" fill="none"/>
<text x="797.21" y="330.50" font-size="10.70" fill="#2a3040" font-weight="normal" textLength="48.73" lengthAdjust="spacingAndGlyphs">45204.43</text>
<text x="86.94" y="393.00" font-size="11.40" fill="#2a3346" font-weight="normal" textLength="72.20" lengthAdjust="spacingAndGlyphs">VOL:35938.00</text>
<text x="164.92" y="393.00" font-size="11.40" fill="#dfc463" font-weight="normal" textLength="78.04" lengthAdjust="spacingAndGlyphs">MA5:140352.00</text>
<text x="248.77" y="393.00" font-size="11.40" fill="#c9625e" font-weight="normal" textLength="78.48" lengthAdjust="spacingAndGlyphs">MA10:130611.00</text>
</svg></body></html>
